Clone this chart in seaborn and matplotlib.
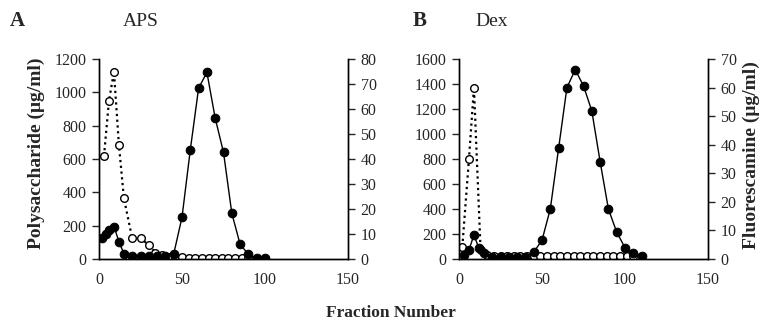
import numpy as np
import pandas as pd
import seaborn as sns
import matplotlib.pyplot as plt

# Panel A - APS
aps_poly_x = [2, 4, 6, 9, 12, 15, 20, 25, 30, 35, 40, 45, 50, 55, 60, 65, 70, 75, 80, 85, 90, 95, 100]
aps_poly_y = [125, 148, 172, 195, 105, 32, 18, 18, 18, 18, 18, 30, 250, 655, 1025, 1120, 845, 640, 275, 88, 28, 5, 5]
aps_fluo_x = [3, 6, 9, 12, 15, 20, 25, 30, 34, 38, 42, 46, 50, 54, 58, 62, 66, 70, 74, 78, 82, 86, 90]
aps_fluo_y = [41.2, 63.2, 74.9, 45.6, 24.3, 8.3, 8.3, 5.6, 2.5, 1.5, 1.0, 1.0, 1.0, 0.3, 0.3, 0.3, 0.3, 0.3, 0.3, 0.3, 0.3, 0.3, 0.3]

# Panel B - Dex
dex_poly_x = [3, 6, 9, 12, 15, 20, 25, 30, 35, 40, 45, 50, 55, 60, 65, 70, 75, 80, 85, 90, 95, 100, 105, 110]
dex_poly_y = [32, 72, 192, 86, 46, 18, 18, 18, 18, 18, 55, 150, 400, 885, 1370, 1515, 1385, 1185, 780, 400, 215, 90, 50, 28]
dex_fluo_x = [2, 6, 9, 13, 17, 21, 25, 29, 33, 37, 41, 45, 49, 53, 57, 61, 65, 69, 73, 77, 81, 85, 89, 93, 97, 101, 105]
dex_fluo_y = [4.3, 35, 60, 3.1, 1.5, 1.0, 1.0, 1.0, 1.0, 1.0, 1.0, 1.2, 1.2, 1.2, 1.2, 1.2, 1.2, 1.2, 1.2, 1.2, 1.2, 1.2, 1.2, 1.2, 1.2, 1.2, 1.2]

sns.set_style("white")
plt.rcParams['font.family'] = ['Liberation Serif', 'DejaVu Serif']

fig = plt.figure(figsize=(7.6, 3.3), dpi=100)
W, H = 760, 330


def panel(left, right, poly_x, poly_y, fluo_x, fluo_y, ymax, ystep, rmax):
    ax = fig.add_axes([left / W, 1 - 259 / H, (right - left) / W, 200 / H])
    ax2 = ax.twinx()
    # fluorescamine: open circles, dotted line (right axis)
    sns.lineplot(x=fluo_x, y=fluo_y, ax=ax2, sort=False, color='black',
                 linestyle=(0, (1, 1.6)), linewidth=1.6, marker='o', markersize=5.5,
                 markerfacecolor='white', markeredgecolor='black', markeredgewidth=1)
    # polysaccharide: filled circles, solid line (left axis)
    sns.lineplot(x=poly_x, y=poly_y, ax=ax, sort=False, color='black',
                 linewidth=1, marker='o', markersize=6.2,
                 markerfacecolor='black', markeredgecolor='black')
    ax.set_zorder(ax2.get_zorder() + 1)
    ax.patch.set_visible(False)
    ax.set_xlim(0, 150)
    ax.set_ylim(0, ymax)
    ax2.set_ylim(0, rmax)
    ax.set_xticks([0, 50, 100, 150])
    ax.set_yticks(np.arange(0, ymax + 1, ystep))
    ax2.set_yticks(np.arange(0, rmax + 1, 10))
    for a in (ax, ax2):
        a.spines['top'].set_visible(False)
        for s in a.spines.values():
            s.set_linewidth(1)
            s.set_color('black')
        a.tick_params(axis='y', direction='out', length=5, width=1, labelsize=11.5, pad=4)
        a.set_xlabel('')
        a.set_ylabel('')
    ax.tick_params(axis='x', length=0, labelsize=11.5, pad=9)
    return ax, ax2


panel(99, 348, aps_poly_x, aps_poly_y, aps_fluo_x, aps_fluo_y, 1200, 200, 80)
panel(459, 708, dex_poly_x, dex_poly_y, dex_fluo_x, dex_fluo_y, 1600, 200, 70)

fig.text(10 / W, 1 - 21 / H, 'A', fontsize=15, fontweight='bold', va='center')
fig.text(123 / W, 1 - 21 / H, 'APS', fontsize=14, va='center')
fig.text(413 / W, 1 - 21 / H, 'B', fontsize=15, fontweight='bold', va='center')
fig.text(475 / W, 1 - 21 / H, 'Dex', fontsize=14, va='center')

fig.text(36 / W, 1 - 153 / H, 'Polysaccharide (\u03bcg/ml)', rotation=90, fontsize=14,
         fontweight='bold', ha='center', va='center')
fig.text(751 / W, 1 - 155 / H, 'Fluorescamine (\u03bcg/ml)', rotation=90, fontsize=14,
         fontweight='bold', ha='center', va='center')
fig.text(391 / W, 1 - 313 / H, 'Fraction Number', fontsize=12.5, fontweight='bold',
         ha='center', va='center')

fig.savefig('out.png', dpi=100)
